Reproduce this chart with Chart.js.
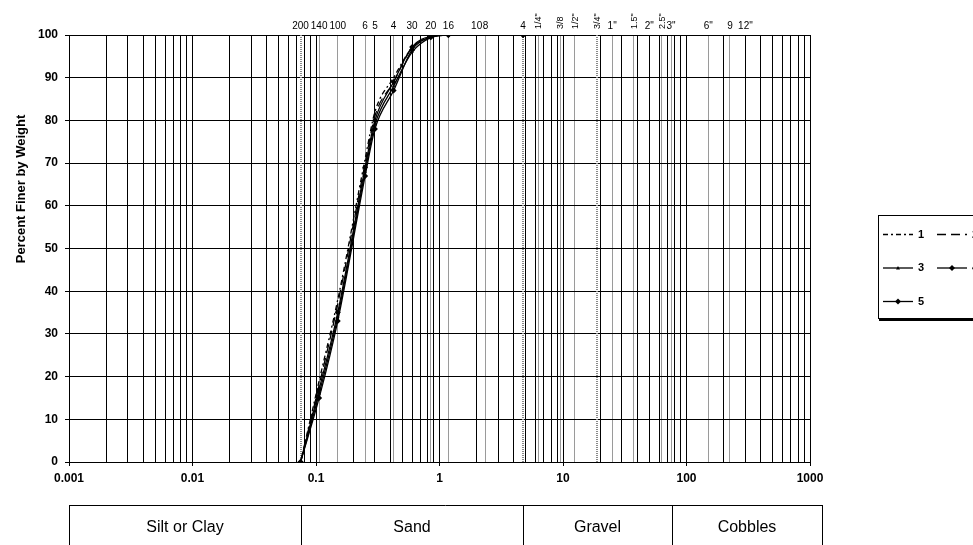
<!DOCTYPE html>
<html>
<head>
<meta charset="utf-8">
<script src="https://cdn.jsdelivr.net/npm/chart.js@4/dist/chart.umd.min.js"></script>
<style>
  html, body { margin: 0; padding: 0; background: #fff; overflow: hidden; }
</style>
</head>
<body>
<canvas id="myChart" width="973" height="545"></canvas>
<script>
// grain sizes (mm) of the sieves used for the samples
const sieveMm = [0.075, 0.106, 0.15, 0.25, 0.3, 0.425, 0.6, 0.85, 1.18, 4.75]
// percent finer by weight, one list per sample
const sample1 = [0, 19, 38, 71, 82, 90, 97, 99.6, 100, 100]
const sample2 = [0, 18, 37, 70, 81, 89, 97, 99.5, 100, 100]
const sample3 = [0, 16, 34, 68, 79, 88, 96, 99.4, 100, 100]
const sample4 = [0, 17, 35, 69, 80, 89, 97.2, 99.7, 100, 100]
const sample5 = [0, 15, 33, 67, 78, 87, 96.5, 99.5, 100, 100]
const sampleNames = ["1", "2", "3", "4", "5"]

const xDecades = [0.001, 0.01, 0.1, 1, 10, 100, 1000]
const yTicks = [0, 10, 20, 30, 40, 50, 60, 70, 80, 90, 100]

// sieve designations along the top
const topSizes = [0.075, 0.106, 0.15, 0.25, 0.3, 0.425, 0.6, 0.85, 1.18, 2, 2.36, 4.75, 6.3, 9.5, 12.5, 19, 25, 37.5, 50, 63, 75, 150, 225, 300]
const topLabels = ["200", "140", "100", "6", "5", "4", "30", "20", "16", "10", "8", "4", '1/4"', "3/8", '1/2"', '3/4"', '1"', '1.5"', '2"', '2.5"', '3"', '6"', "9", '12"']
const rotatedLabels = ['1/4"', "3/8", '1/2"', '3/4"', '1.5"', '2.5"']
const dottedSizes = [0.075, 4.75, 19]

const soilClasses = ["Silt or Clay", "Sand", "Gravel", "Cobbles"]
const soilBounds = [0.001, 0.075, 4.75, 76.2, 1150]

const FONT = "Arial, 'Liberation Sans', sans-serif"

const toPoints = (ys) => sieveMm.map((x, i) => ({ x: x, y: ys[i] }))

const isDecade = (v) => {
  const l = Math.log10(v)
  return Math.abs(l - Math.round(l)) < 1e-9
}
const gridValues = []
for (let e = -3; e < 3; e++) {
  for (let m = 1; m < 10; m++) gridValues.push(+(m * Math.pow(10, e)).toPrecision(3))
}
gridValues.push(1000)

const extras = {
  id: "extras",
  beforeDatasetsDraw(chart) {
    const { ctx, chartArea: a, scales: { x } } = chart
    ctx.save()
    ctx.strokeStyle = "#8a8a8a"
    ctx.lineWidth = 2
    ctx.setLineDash([1, 1])
    dottedSizes.forEach((v) => {
      const px = Math.round(x.getPixelForValue(v))
      ctx.beginPath()
      ctx.moveTo(px, a.top)
      ctx.lineTo(px, a.bottom)
      ctx.stroke()
    })
    ctx.restore()
  },
  afterDraw(chart) {
    const { ctx, chartArea: a, scales: { x } } = chart
    ctx.save()
    ctx.fillStyle = "#000"

    // sieve labels
    ctx.font = "10px " + FONT
    topSizes.forEach((v, i) => {
      const px = x.getPixelForValue(v)
      const t = topLabels[i]
      if (rotatedLabels.includes(t)) {
        ctx.save()
        ctx.translate(px + 3, 29)
        ctx.rotate(-Math.PI / 2)
        ctx.textAlign = "left"
        ctx.textBaseline = "alphabetic"
        ctx.font = "9px " + FONT
        ctx.fillText(t, 0, 0)
        ctx.restore()
      } else {
        ctx.textAlign = "center"
        ctx.textBaseline = "alphabetic"
        ctx.fillText(t, px, 29)
      }
    })

    // y title
    ctx.save()
    ctx.translate(21, 189)
    ctx.rotate(-Math.PI / 2)
    ctx.font = "bold 13px " + FONT
    ctx.textAlign = "center"
    ctx.textBaseline = "middle"
    ctx.fillText("Percent Finer by Weight", 0, 0)
    ctx.restore()

    // legend
    ctx.strokeStyle = "#000"
    ctx.lineWidth = 1
    ctx.setLineDash([])
    ctx.strokeRect(878.5, 215.5, 200, 103)
    ctx.fillRect(879, 319, 200, 2)
    chart.data.datasets.forEach((ds, i) => {
      const col = i % 2
      const row = Math.floor(i / 2)
      const x0 = 883 + col * 54
      const y = 234.5 + row * 33.5
      ctx.strokeStyle = ds.borderColor
      ctx.lineWidth = ds.borderWidth
      ctx.setLineDash(ds.borderDash || [])
      ctx.beginPath()
      ctx.moveTo(x0, y)
      ctx.lineTo(x0 + 30, y)
      ctx.stroke()
      ctx.setLineDash([])
      if (ds.pointRadius > 0) {
        const cx = x0 + 15
        const r = ds.pointRadius
        ctx.beginPath()
        if (ds.pointStyle === "triangle") {
          ctx.moveTo(cx, y - r)
          ctx.lineTo(cx + r, y + r * 0.7)
          ctx.lineTo(cx - r, y + r * 0.7)
        } else {
          ctx.moveTo(cx, y - r)
          ctx.lineTo(cx + r, y)
          ctx.lineTo(cx, y + r)
          ctx.lineTo(cx - r, y)
        }
        ctx.closePath()
        ctx.fill()
      }
      ctx.font = "bold 11px " + FONT
      ctx.textAlign = "left"
      ctx.textBaseline = "middle"
      ctx.fillText(ds.label, x0 + 35, y)
    })

    // soil classification table
    ctx.strokeStyle = "#000"
    ctx.lineWidth = 1
    const left = Math.round(x.getPixelForValue(soilBounds[0]))
    const right = 822
    ctx.beginPath()
    ctx.moveTo(left, 505.5)
    ctx.lineTo(right, 505.5)
    ctx.stroke()
    const edges = soilBounds.map((v, i) => (i === soilBounds.length - 1 ? right : Math.round(x.getPixelForValue(v))))
    edges.forEach((px) => {
      ctx.beginPath()
      ctx.moveTo(px + 0.5, 505)
      ctx.lineTo(px + 0.5, 545)
      ctx.stroke()
    })
    ctx.font = "16px " + FONT
    ctx.textAlign = "center"
    ctx.textBaseline = "middle"
    soilClasses.forEach((t, i) => {
      ctx.fillText(t, (edges[i] + edges[i + 1]) / 2, 528)
    })
    ctx.restore()
  },
}

const ctx = document.getElementById("myChart")
const myChart = new Chart(ctx, {
  type: "line",
  data: {
    datasets: [
      { label: sampleNames[0], data: toPoints(sample1), borderDash: [5, 3, 2, 3], pointRadius: 0 },
      { label: sampleNames[1], data: toPoints(sample2), borderDash: [9, 5], pointRadius: 0 },
      { label: sampleNames[2], data: toPoints(sample3), pointStyle: "triangle", pointRadius: 2 },
      { label: sampleNames[3], data: toPoints(sample4), pointStyle: "rectRot", pointRadius: 3 },
      { label: sampleNames[4], data: toPoints(sample5), pointStyle: "rectRot", pointRadius: 3 },
    ].map((d) => ({
      borderColor: "#000",
      backgroundColor: "#000",
      borderWidth: 1.3,
      cubicInterpolationMode: "monotone",
      pointBorderWidth: 0,
      ...d,
    })),
  },
  plugins: [extras],
  options: {
    responsive: false,
    animation: false,
    layout: { padding: { top: 35, right: 163, left: 0, bottom: 0 } },
    scales: {
      x: {
        type: "logarithmic",
        min: 0.001,
        max: 1000,
        afterFit: (s) => { s.height = 83 },
        afterBuildTicks: (s) => {
          const vals = gridValues.slice()
          topSizes.forEach((v) => {
            if (!dottedSizes.includes(v) && !vals.includes(v)) vals.push(v)
          })
          vals.sort((p, q) => p - q)
          s.ticks = vals.map((v) => ({ value: v }))
        },
        border: { color: "#000", width: 1 },
        grid: {
          color: (c) => (c.tick && !gridValues.includes(c.tick.value) ? "#9a9a9a" : "#000"),
          tickColor: (c) => (c.tick && xDecades.includes(c.tick.value) ? "#000" : "rgba(0,0,0,0)"),
          tickLength: 4,
          lineWidth: 1,
        },
        ticks: {
          autoSkip: false,
          maxRotation: 0,
          padding: 5,
          color: "#000",
          font: { family: FONT, size: 12, weight: "bold" },
          callback: (v) => (xDecades.includes(v) ? String(v) : ""),
        },
      },
      y: {
        min: 0,
        max: 100,
        afterFit: (s) => { s.width = 69 },
        afterBuildTicks: (s) => { s.ticks = yTicks.map((v) => ({ value: v })) },
        border: { color: "#000", width: 1 },
        grid: { color: "#000", tickColor: "#000", tickLength: 4, lineWidth: 1 },
        ticks: {
          padding: 7,
          color: "#000",
          font: { family: FONT, size: 12, weight: "bold" },
        },
      },
    },
    plugins: {
      legend: { display: false },
      tooltip: { enabled: false },
    },
  },
})
</script>
</body>
</html>
